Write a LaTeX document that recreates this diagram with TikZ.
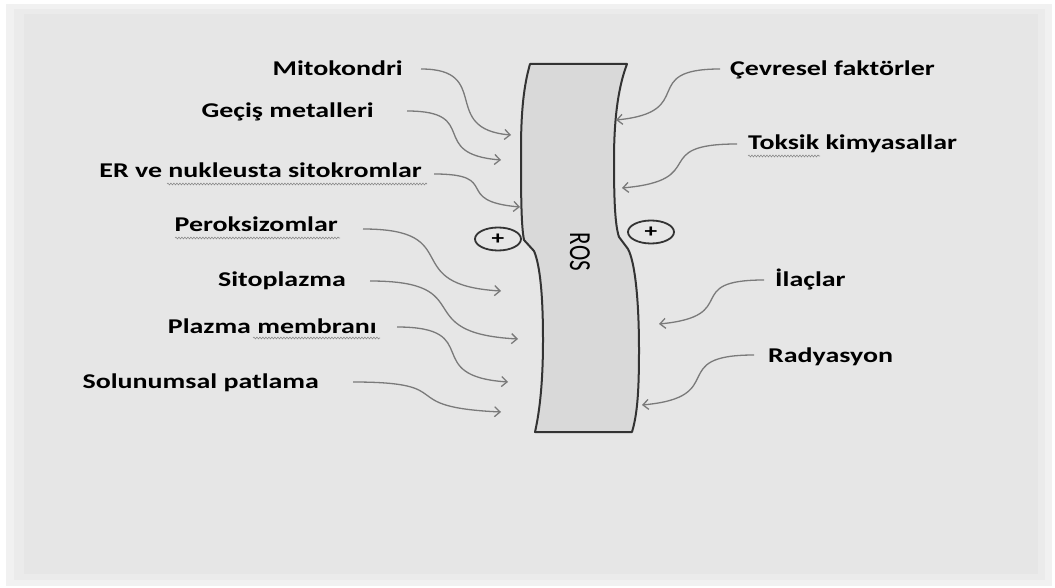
\documentclass[tikz,border=0pt]{standalone}
\usepackage{graphicx}
\usepackage{fontspec}
\setmainfont{Carlito}
\usetikzlibrary{arrows.meta,shapes.geometric,decorations.pathmorphing}
\definecolor{bgA}{HTML}{F1F1F1}
\definecolor{bgB}{HTML}{EBEBEB}
\definecolor{bgC}{HTML}{E6E6E6}
\definecolor{rosfill}{HTML}{D9D9D9}
\definecolor{darkline}{HTML}{333333}
\definecolor{arrgray}{HTML}{7A7A7A}
\definecolor{sqgray}{HTML}{8A8A8A}
\newcommand{\sxw}[1]{\scalebox{1.33}[1]{#1}}
\begin{document}
\begin{tikzpicture}[x=1pt,y=-1pt,
  lab/.style={inner sep=0pt, text=black, font=\fontsize{21}{25}\selectfont\bfseries},
  arr/.style={draw=arrgray, line width=1.3pt, -{Straight Barb[length=5.5pt,width=10pt]}},
  pl/.style={ellipse, draw=darkline, line width=1.8pt, minimum width=46pt, minimum height=23pt, inner sep=0pt, font=\fontsize{19}{19}\selectfont\bfseries},
  sq/.style={draw=sqgray, line width=0.6pt, decorate, decoration={snake, amplitude=0.9pt, segment length=3pt}},
  rosshape/.style={draw=darkline, fill=rosfill, line width=2pt, line join=round}]
% background
\fill[white] (0,0) rectangle (1055,588);
\fill[bgA] (6,4) rectangle (1052,586);
\fill[bgB] (14,9) rectangle (1045,580);
\fill[bgC] (24,14) rectangle (1038,574);
\useasboundingbox (0,0) rectangle (1055,588);
% ROS band
\draw[rosshape] (530,64) -- (627,64)
  .. controls (619,85) and (614,115) .. (614,160)
  .. controls (614,200) and (615,225) .. (619,237)
  -- (628,249)
  .. controls (635,262) and (639,300) .. (639,350)
  .. controls (639,395) and (637,415) .. (632,432)
  -- (535,432)
  .. controls (540,410) and (543,380) .. (543,340)
  .. controls (543,295) and (540,265) .. (534,251)
  -- (524,240)
  .. controls (521,225) and (521,190) .. (521,150)
  .. controls (521,110) and (524,85) .. (530,64) -- cycle;
\node (ros) at (580,252) {\sxw{\rotatebox{-90}{\fontsize{23}{23}\selectfont ROS}}};
% plus circles
\node[pl] (pL) at (498,239) {\sxw{+}};
\node[pl] (pR) at (651,232) {\sxw{+}};
% left labels
\node[lab, anchor=base east] (mito) at (403,76) {\sxw{Mitokondri}};
\node[lab, anchor=base east] (gecis) at (374,118) {\sxw{Geçiş metalleri}};
\node[lab, anchor=base east] (er) at (422,178) {\sxw{ER ve nukleusta sitokromlar}};
\node[lab, anchor=base east] (perok) at (338,232) {\sxw{Peroksizomlar}};
\node[lab, anchor=base east] (sito) at (346,287) {\sxw{Sitoplazma}};
\node[lab, anchor=base east] (plaz) at (377,333) {\sxw{Plazma membranı}};
\node[lab, anchor=base east] (solu) at (319,388) {\sxw{Solunumsal patlama}};
% right labels
\node[lab, anchor=base west] (cev) at (730,76) {\sxw{Çevresel faktörler}};
\node[lab, anchor=base west] (tok) at (748,150) {\sxw{Toksik kimyasallar}};
\node[lab, anchor=base west] (ila) at (775,286) {\sxw{İlaçlar}};
\node[lab, anchor=base west] (rad) at (768,362) {\sxw{Radyasyon}};
% spell-check squiggles
\draw[sq] (167,184) -- (427,184);
\draw[sq] (175,238) -- (340,238);
\draw[sq] (253,338) -- (380,338);
\draw[sq] (748,156) -- (820,156);
% arrow end points
\coordinate (mitoS) at (421,69);  \coordinate (mitoE) at (511,135);
\coordinate (gecisS) at (407,111); \coordinate (gecisE) at (501,160);
\coordinate (erS) at (434,174);   \coordinate (erE) at (520,207);
\coordinate (perokS) at (363,229); \coordinate (perokE) at (501,291);
\coordinate (sitoS) at (370,281); \coordinate (sitoE) at (518,339);
\coordinate (plazS) at (397,327); \coordinate (plazE) at (508,382);
\coordinate (soluS) at (353,382); \coordinate (soluE) at (501,412);
\coordinate (cevS) at (720,69);   \coordinate (cevE) at (616,120);
\coordinate (tokS) at (737,144);  \coordinate (tokE) at (622,188);
\coordinate (ilaS) at (764,280);  \coordinate (ilaE) at (659,324);
\coordinate (radS) at (754,355);  \coordinate (radE) at (642,405);
% arrows
\draw[arr] (mitoS) .. controls +(72,0) and +(-72,-6) .. (mitoE);
\draw[arr] (gecisS) .. controls +(75,0) and +(-75,-6) .. (gecisE);
\draw[arr] (erS) .. controls +(69,0) and +(-69,-6) .. (erE);
\draw[arr] (perokS) .. controls +(105,0) and +(-105,-6) .. (perokE);
\draw[arr] (sitoS) .. controls +(112,0) and +(-112,-6) .. (sitoE);
\draw[arr] (plazS) .. controls +(89,0) and +(-89,-6) .. (plazE);
\draw[arr] (soluS) .. controls +(110,0) and +(-110,-5) .. (soluE);
\draw[arr] (cevS) .. controls +(-83,0) and +(83,-8) .. (cevE);
\draw[arr] (tokS) .. controls +(-90,0) and +(90,-8) .. (tokE);
\draw[arr] (ilaS) .. controls +(-84,0) and +(84,-8) .. (ilaE);
\draw[arr] (radS) .. controls +(-89,0) and +(89,-8) .. (radE);
\end{tikzpicture}
\end{document}
